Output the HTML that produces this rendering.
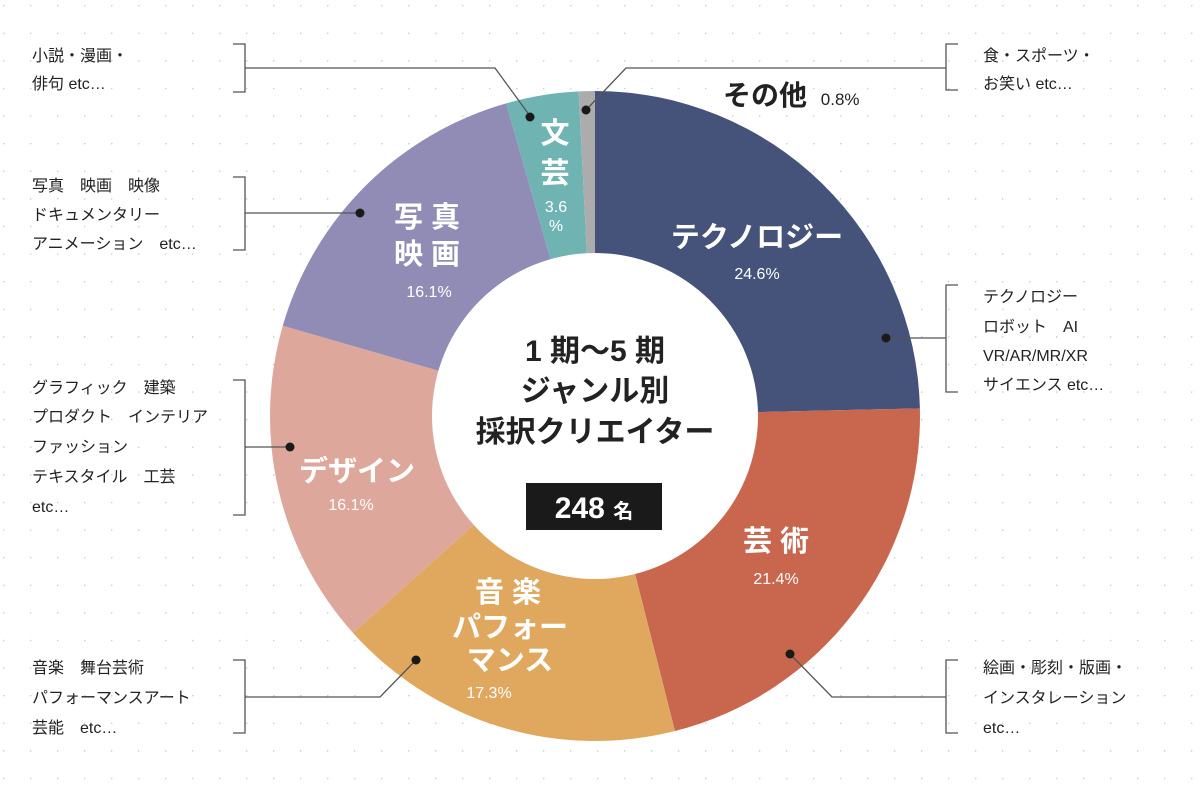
<!DOCTYPE html>
<html><head><meta charset="utf-8"><style>
html,body{margin:0;padding:0;background:#fff}
svg{display:block}
text{font-family:"Liberation Sans","Noto Sans CJK JP",sans-serif}
</style></head><body>
<svg id="chart" width="1200" height="790" viewBox="0 0 1200 790" xmlns="http://www.w3.org/2000/svg">
<defs><pattern id="dots" x="3" y="5" width="27" height="27.6" patternUnits="userSpaceOnUse"><circle cx="0" cy="0" r="1.6" fill="#cfcfcf"/></pattern></defs>
<rect width="1200" height="790" fill="url(#dots)"/>
<g id="slices"></g>
<circle cx="595" cy="416" r="163" fill="#fff"/>
<g id="labels" font-weight="bold" fill="#fff" text-anchor="middle">
<text x="757" y="247" font-size="29">テクノロジー</text>
<text x="757" y="279" font-size="16" font-weight="normal">24.6%</text>
<text x="776" y="551" font-size="29">芸 術</text>
<text x="776" y="584" font-size="16" font-weight="normal">21.4%</text>
<text x="508" y="602" font-size="29">音 楽</text>
<text x="510" y="637" font-size="29">パフォー</text>
<text x="510" y="670" font-size="29">マンス</text>
<text x="489" y="698" font-size="16" font-weight="normal">17.3%</text>
<text x="357" y="481" font-size="29">デザイン</text>
<text x="351" y="510" font-size="16" font-weight="normal">16.1%</text>
<text x="427" y="227" font-size="29">写 真</text>
<text x="427" y="264" font-size="29">映 画</text>
<text x="429" y="297" font-size="16" font-weight="normal">16.1%</text>
<text x="555" y="143" font-size="29">文</text>
<text x="555" y="183" font-size="29">芸</text>
<text x="556" y="212" font-size="16" font-weight="normal">3.6</text>
<text x="556" y="231" font-size="16" font-weight="normal">%</text>
</g>
<g fill="#222" font-weight="bold" text-anchor="middle" font-size="30">
<text x="595" y="361">1 期～5 期</text>
<text x="595" y="401">ジャンル別</text>
<text x="595" y="442">採択クリエイター</text>
</g>
<rect x="526" y="483" width="136" height="47" fill="#1a1a1a"/>
<text x="594" y="518" fill="#fff" font-size="30" font-weight="bold" text-anchor="middle">248 <tspan font-size="20">名</tspan></text>
<text x="723" y="105" font-size="28" font-weight="bold" fill="#222">その他 <tspan font-size="17" font-weight="normal" dx="6">0.8%</tspan></text>
<g stroke="#555" stroke-width="1.3" fill="none">
<path d="M233 44H245V92H233M245 68H495L530 116"/>
<path d="M233 177H245V250H233M245 213H360"/>
<path d="M233 380H245V515H233M245 447H290"/>
<path d="M233 660H245V733H233M245 697H380L416 660"/>
<path d="M958 44H946V90H958M946 68H626L586 110"/>
<path d="M958 285H946V392H958M946 338H886"/>
<path d="M958 660H946V733H958M946 697H832L790 654"/>
</g>
<g fill="#1a1a1a">
<circle cx="530" cy="117" r="4.5"/>
<circle cx="360" cy="213" r="4.5"/>
<circle cx="290" cy="447" r="4.5"/>
<circle cx="416" cy="660" r="4.5"/>
<circle cx="586" cy="110" r="4.5"/>
<circle cx="886" cy="338" r="4.5"/>
<circle cx="790" cy="654" r="4.5"/>
</g>
<g fill="#222" font-size="16">
<text x="32" y="61">小説・漫画・</text>
<text x="32" y="89">俳句  etc…</text>
<text x="32" y="191">写真　映画　映像</text>
<text x="32" y="220">ドキュメンタリー</text>
<text x="32" y="249">アニメーション　etc…</text>
<text x="32" y="393">グラフィック　建築</text>
<text x="32" y="422">プロダクト　インテリア</text>
<text x="32" y="452">ファッション</text>
<text x="32" y="482">テキスタイル　工芸</text>
<text x="32" y="512">etc…</text>
<text x="32" y="673">音楽　舞台芸術</text>
<text x="32" y="703">パフォーマンスアート</text>
<text x="32" y="733">芸能　etc…</text>
<text x="983" y="61">食・スポーツ・</text>
<text x="983" y="89">お笑い etc…</text>
<text x="983" y="302">テクノロジー</text>
<text x="983" y="332">ロボット　AI</text>
<text x="983" y="361">VR/AR/MR/XR</text>
<text x="983" y="390">サイエンス etc…</text>
<text x="983" y="673">絵画・彫刻・版画・</text>
<text x="983" y="703">インスタレーション</text>
<text x="983" y="733">etc…</text>
</g>
</svg>
<script>
const categories = ["tech","art","music","design","photo","literature","other"];
const values = [24.6, 21.4, 17.3, 16.1, 16.1, 3.6, 0.8];
const colors = ["#45537a","#c9674e","#e0a85f","#dea79b","#908cb6","#6fb3b3","#acacac"];
const cx = 595, cy = 416, R = 325;
const total = values.reduce((a,b)=>a+b,0);
function pt(frac){const a = frac*2*Math.PI - Math.PI/2; return [cx+R*Math.cos(a), cy+R*Math.sin(a)];}
const g = document.getElementById('slices');
let acc = 0;
values.forEach((v,i)=>{
  const s = acc/total, e = (acc+v)/total; acc += v;
  const [x1,y1] = pt(s), [x2,y2] = pt(e);
  const p = document.createElementNS('http://www.w3.org/2000/svg','path');
  p.setAttribute('d', `M${cx},${cy}L${x1},${y1}A${R},${R} 0 ${e-s>0.5?1:0} 1 ${x2},${y2}Z`);
  p.setAttribute('fill', colors[i]);
  
  
  g.appendChild(p);
});
</script>
</body></html>
